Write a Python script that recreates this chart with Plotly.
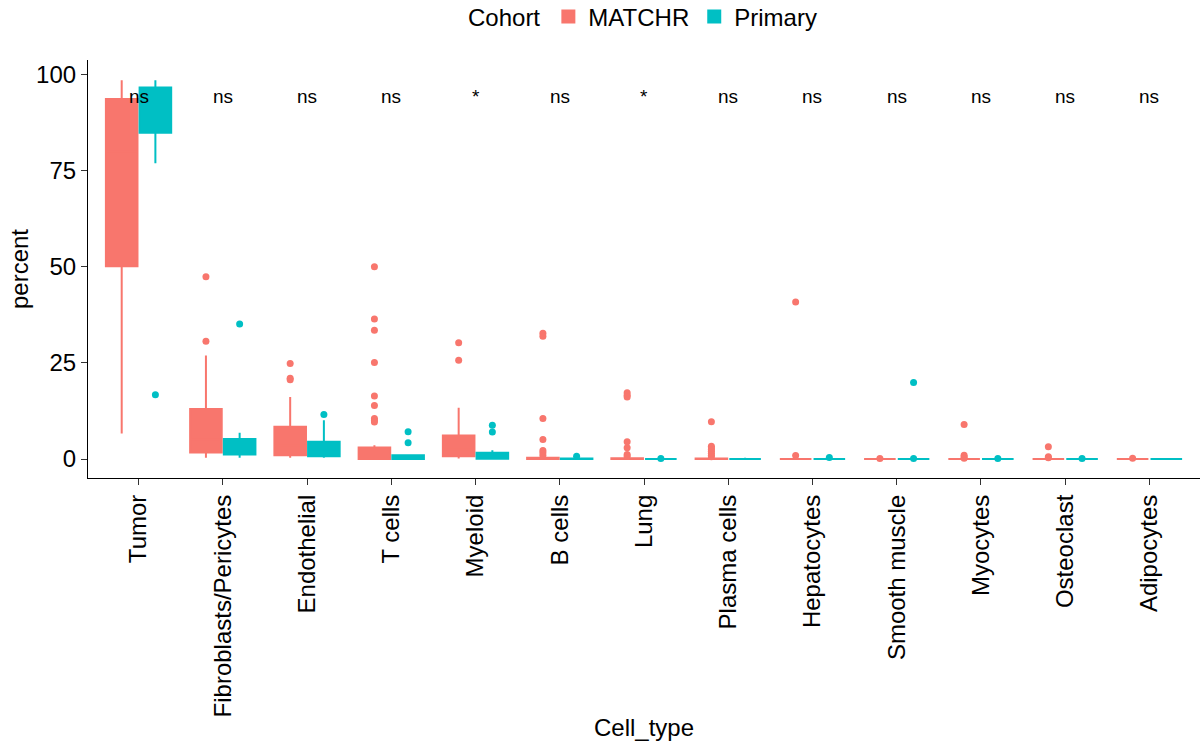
import plotly.graph_objects as go

categories = ["Tumor", "Fibroblasts/Pericytes", "Endothelial", "T cells", "Myeloid",
              "B cells", "Lung", "Plasma cells", "Hepatocytes", "Smooth muscle",
              "Myocytes", "Osteoclast", "Adipocytes"]

# MATCHR cohort box statistics (percent)
matchr_low    = [6.6, 0.3, 0.3, 0.0, 0.1, 0.0, 0.0, 0.0, 0.0, 0.0, 0.0, 0.0, 0.0]
matchr_q1     = [50.1, 1.7, 1.0, 0.0, 0.7, 0.0, 0.0, 0.0, 0.0, 0.0, 0.0, 0.0, 0.0]
matchr_median = [80.0, 5.0, 3.5, 0.8, 2.5, 0.0, 0.0, 0.0, 0.0, 0.0, 0.0, 0.0, 0.0]
matchr_q3     = [93.6, 13.0, 8.4, 3.0, 6.1, 0.3, 0.2, 0.1, 0.0, 0.0, 0.0, 0.0, 0.0]
matchr_high   = [98.5, 26.9, 16.1, 3.6, 13.3, 0.5, 0.4, 0.2, 0.0, 0.0, 0.0, 0.0, 0.0]
matchr_outliers = [
    [],
    [47.4, 30.6],
    [24.8, 21.0, 20.6],
    [50.0, 36.4, 33.5, 25.1, 16.4, 13.9, 10.5, 10.0, 9.6],
    [30.2, 25.7],
    [32.7, 31.9, 10.5, 5.1, 2.2, 1.6, 0.9],
    [17.2, 16.6, 16.1, 4.5, 2.9, 1.2, 0.7],
    [9.7, 3.3, 2.9, 2.5, 2.0, 1.5, 1.0, 0.6],
    [40.8, 0.9],
    [0.15],
    [9.0, 1.0, 0.5, 0.2],
    [3.2, 0.6, 0.3],
    [0.2],
]

# Primary cohort box statistics (percent)
primary_low    = [76.9, 0.3, 0.3, 0.0, 0.0, 0.0, 0.0, 0.0, 0.0, 0.0, 0.0, 0.0, 0.0]
primary_q1     = [84.8, 1.2, 0.7, 0.0, 0.05, 0.0, 0.0, 0.0, 0.0, 0.0, 0.0, 0.0, 0.0]
primary_median = [91.0, 2.5, 2.0, 0.3, 0.5, 0.0, 0.0, 0.0, 0.0, 0.0, 0.0, 0.0, 0.0]
primary_q3     = [96.6, 5.2, 4.5, 1.0, 1.6, 0.1, 0.0, 0.0, 0.0, 0.0, 0.0, 0.0, 0.0]
primary_high   = [98.5, 6.8, 10.1, 1.2, 2.3, 0.2, 0.0, 0.3, 0.0, 0.0, 0.0, 0.0, 0.0]
primary_outliers = [
    [16.7],
    [35.1],
    [11.6],
    [7.1, 4.2],
    [8.8, 7.0],
    [0.7],
    [0.1],
    [],
    [0.4],
    [19.9, 0.1],
    [0.1],
    [0.1],
    [],
]

# significance labels (Wilcoxon), one per cell type
sig_labels = ["ns", "ns", "ns", "ns", "*", "ns", "*", "ns", "ns", "ns", "ns", "ns", "ns"]
sig_y = 92.8

cohorts = ["MATCHR", "Primary"]
colors = ["#F8766D", "#00BFC4"]

FONT = "Liberation Sans, Arial, sans-serif"

fig = go.Figure()
stats = [
    (matchr_low, matchr_q1, matchr_median, matchr_q3, matchr_high, matchr_outliers),
    (primary_low, primary_q1, primary_median, primary_q3, primary_high, primary_outliers),
]
for name, col, (lo, q1, med, q3, hi, outl) in zip(cohorts, colors, stats):
    fig.add_trace(go.Box(
        name=name,
        x=categories,
        q1=q1, median=med, q3=q3,
        lowerfence=lo, upperfence=hi,
        boxpoints=False,
        fillcolor=col,
        line=dict(color=col, width=2),
        whiskerwidth=0,
        offsetgroup=name,
        legendgroup=name,
    ))

for name, col, (lo, q1, med, q3, hi, outl) in zip(cohorts, colors, stats):
    xs = [c for c, vals in zip(categories, outl) for _ in vals]
    ys = [v for vals in outl for v in vals]
    fig.add_trace(go.Scatter(
        name=name, x=xs, y=ys, mode="markers",
        marker=dict(color=col, size=7, line=dict(width=0)),
        offsetgroup=name, legendgroup=name, showlegend=False,
    ))

for cat, lab in zip(categories, sig_labels):
    fig.add_annotation(
        x=cat, y=sig_y, text=lab, showarrow=False,
        xref="x", yref="y", yanchor="bottom", yshift=-7,
        font=dict(family=FONT, size=19, color="black"),
    )

fig.update_layout(
    width=1200, height=744,
    paper_bgcolor="white", plot_bgcolor="white",
    margin=dict(l=88, r=0, t=60, b=266, autoexpand=False),
    boxmode="group", boxgap=0.2, boxgroupgap=0.0625,
    scattermode="group", scattergap=0.2,
    font=dict(family=FONT, size=24, color="black"),
    showlegend=True,
    legend=dict(
        orientation="h", x=0.5, xanchor="center", y=1.103, yanchor="middle",
        title=dict(text="Cohort", side="left", font=dict(size=24)),
        font=dict(size=24), itemwidth=30,
    ),
    xaxis=dict(
        type="category", categoryorder="array", categoryarray=categories,
        range=[-0.6, len(categories) - 0.4],
        tickangle=-90, ticks="outside", ticklen=6, tickcolor="#333333", tickwidth=1.2,
        showline=True, linecolor="black", linewidth=1.2, showgrid=False, zeroline=False,
        tickfont=dict(size=24, color="black"),
        title=dict(text="Cell_type", font=dict(size=24), standoff=2),
    ),
    yaxis=dict(
        range=[-4.94, 103.74], tickvals=[0, 25, 50, 75, 100],
        ticks="outside", ticklen=6, tickcolor="#333333", tickwidth=1.2,
        showline=True, linecolor="black", linewidth=1.2, showgrid=False, zeroline=False,
        tickfont=dict(size=24, color="black"),
        title=dict(text="percent", font=dict(size=24), standoff=0),
    ),
)

fig.write_html("out.html",
               config={"displayModeBar": False},
               post_script="document.body.style.margin='0';document.body.style.padding='0';")
